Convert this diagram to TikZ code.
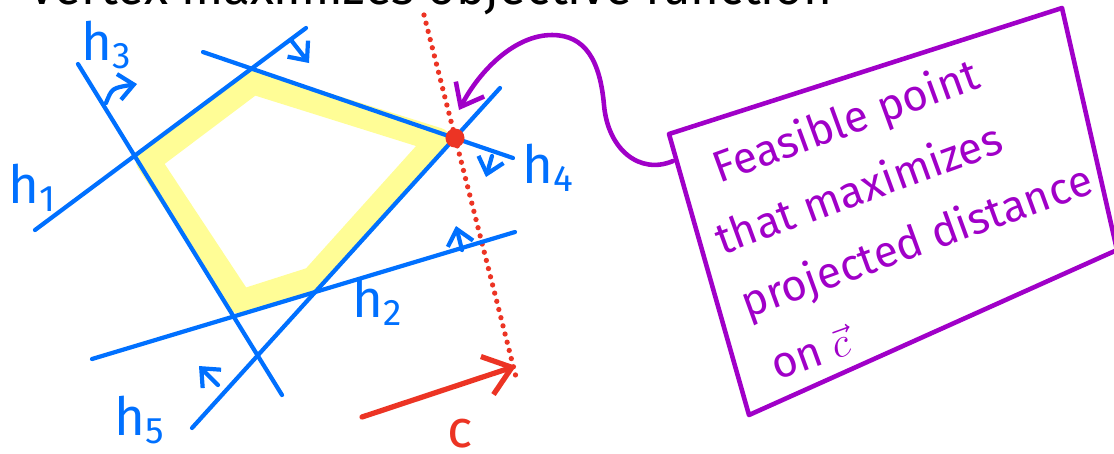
\documentclass[tikz,border=0pt]{standalone}
\usepackage{fontspec}
\setmainfont{Fira Sans}
\usetikzlibrary{arrows.meta}
\definecolor{penblue}{RGB}{0,112,255}
\definecolor{penred}{RGB}{236,52,36}
\definecolor{penpurple}{RGB}{160,0,200}
\definecolor{hilite}{RGB}{255,253,150}

\begin{document}
\begin{tikzpicture}[x=0.01cm,y=-0.01cm,
    hline/.style={penblue,line width=1.2pt,line cap=round},
    nrm/.style={hline,-{Straight Barb[length=1.5mm,width=2.6mm]}},
    hlab/.style={penblue,font=\fontsize{15}{15}\selectfont,inner sep=0pt},
    note/.style={penpurple,font=\fontsize{12.5}{19.5}\selectfont,align=left,inner sep=0pt}]
  \useasboundingbox (0,0) rectangle (1114,453);
  \clip (0,0) rectangle (1114,453);
  % heading, cut off at the top
  \begin{scope}
    \clip (0,0) rectangle (1114,30);
    \node[anchor=base west,inner sep=0pt,font=\fontsize{14}{14}\selectfont] (title) at (28,4) {Vertex maximizes objective function};
  \end{scope}
  % feasible region
  \draw[hilite,line width=7pt,line join=round] (148,161) -- (253,82) -- (438,140) -- (313,279) -- (241,302) -- cycle;
  % c direction
  \coordinate (ctop) at (424,15);
  \coordinate (cbot) at (516,377);
  \draw[penred,line width=1.5pt,line cap=round,dash pattern=on 0pt off 2.4pt] (ctop) -- (cbot);
  % constraints
  \foreach \n/\a/\b/\l in {1/{35,230}/{306,28}/{33,188}, 2/{92,359}/{515,232}/{378,302},
      3/{78,64}/{282,395}/{107,45}, 4/{203,52}/{513,158}/{549,168}, 5/{192,428}/{500,88}/{140,420}}{
    \coordinate (h\n-a) at (\a);
    \coordinate (h\n-b) at (\b);
    \draw[hline] (h\n-a) -- (h\n-b);
    \node[hlab] (lab\n) at (\l) {h\textsubscript{\n}};
  }
  \draw[nrm] (291,40) -- (309,63);
  \draw[nrm] (106,103) .. controls (112,88) .. (137,84);
  \draw[nrm] (492,156) -- (486,177);
  \draw[nrm] (462,250) -- (456,226);
  \draw[nrm] (218,385) -- (199,366);
  \node[circle,fill=penred,inner sep=0pt,minimum size=0.19cm] (opt) at (455,138) {};
  \coordinate (c0) at (362,417);
  \coordinate (c1) at (516,366);
  \draw[penred,line width=1.5pt,line cap=round,-{Straight Barb[length=2.6mm,width=4mm]}] (c0) -- (c1);
  \node[penred,font=\fontsize{15}{15}\selectfont,inner sep=0pt] (clab) at (460,434) {c};
  % note box
  \coordinate (b1) at (669,134);
  \coordinate (b2) at (1062,8);
  \coordinate (b3) at (1117,250);
  \coordinate (b4) at (749,415);
  \draw[penpurple,line width=1.3pt,line join=round] (b1) -- (b2) -- (b3) -- (b4) -- cycle;
  \node[note,rotate=20,anchor=north west] (txt) at (686,158)
    {\hspace{0.5em}Feasible point\\that maximizes\\\hspace{0.05em}projected distance\\\hspace{0.2em}on $\vec{c}$};
  \coordinate (bl) at (673,161);
  \coordinate (tip) at (459,110);
  \draw[penpurple,line width=1.3pt,line cap=round,-{Straight Barb[length=2mm,width=3.2mm]}]
    (bl) .. controls (640,175) and (608,150) .. (604,105)
    .. controls (600,60) and (585,35) .. (552,35)
    .. controls (515,35) and (480,70) .. (tip);
\end{tikzpicture}
\end{document}
